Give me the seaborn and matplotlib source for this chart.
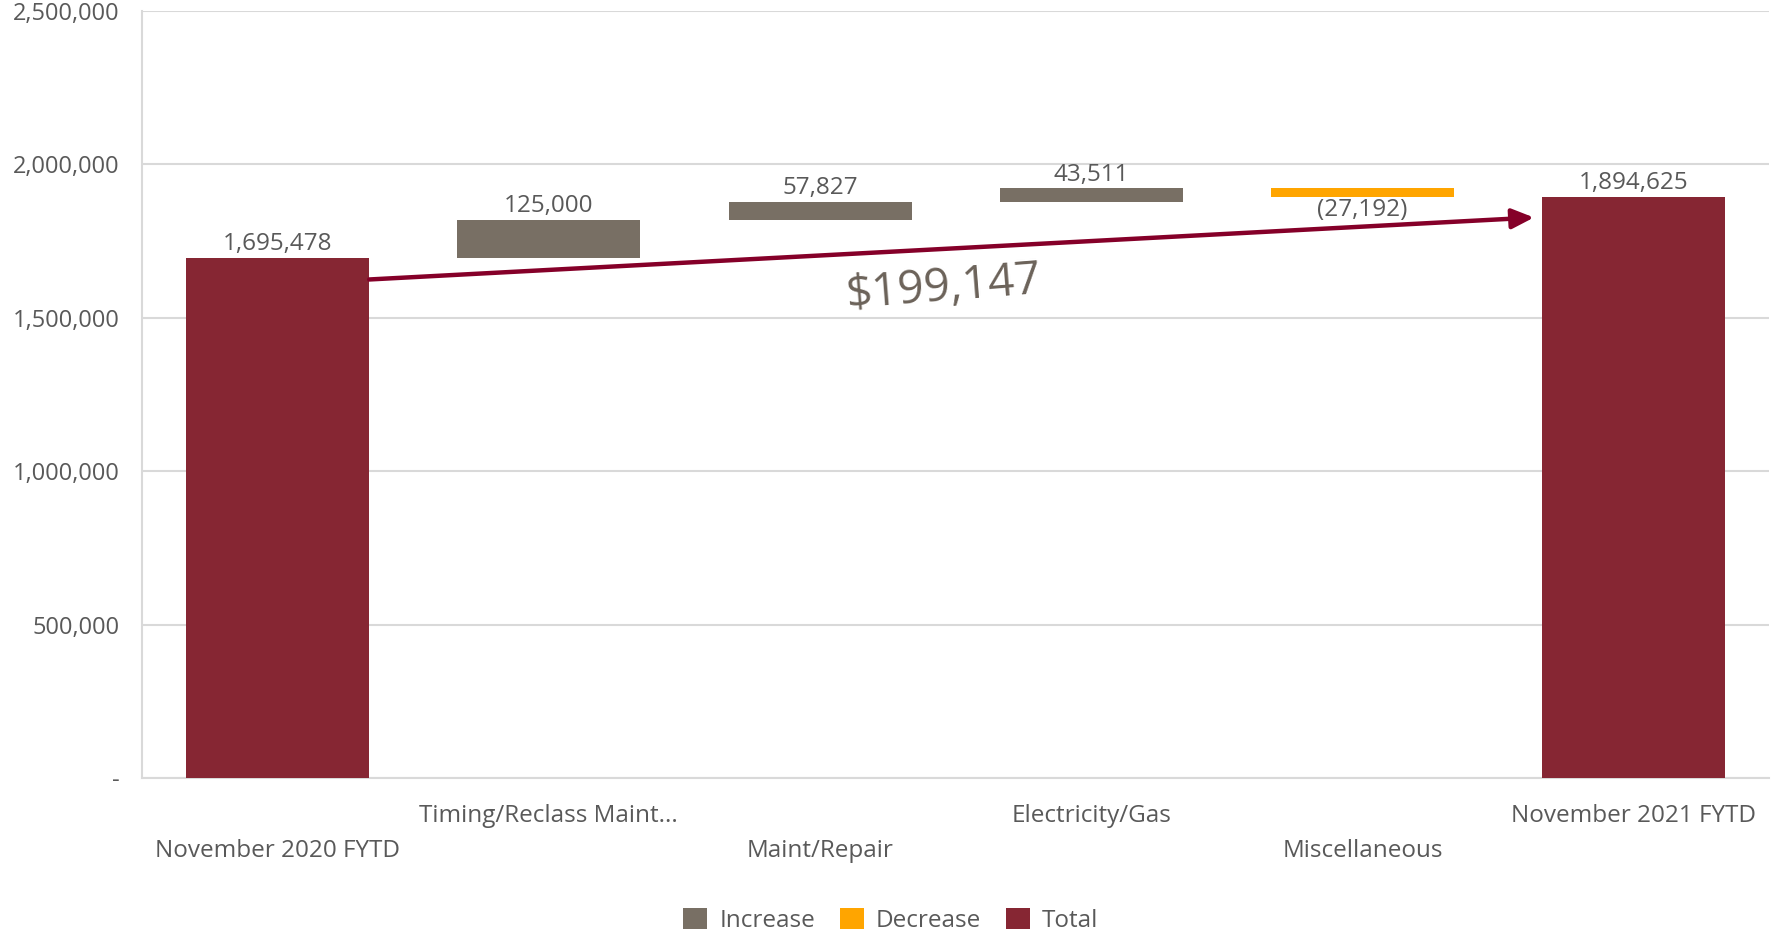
import numpy as np
import pandas as pd
import matplotlib.pyplot as plt
import seaborn as sns
from matplotlib.patches import Patch

# Waterfall data
categories = ['November 2020 FYTD', 'Timing/Reclass Maint...', 'Maint/Repair',
              'Electricity/Gas', 'Miscellaneous', 'November 2021 FYTD']
changes = [1695478, 125000, 57827, 43511, -27192, 1894625]
kinds = ['Total', 'Increase', 'Increase', 'Increase', 'Decrease', 'Total']
labels = ['1,695,478', '125,000', '57,827', '43,511', '(27,192)', '1,894,625']
yticks = [0, 500000, 1000000, 1500000, 2000000, 2500000]
total_change = '$199,147'
arrow_start_y = 1625000
arrow_end_y = 1827000

colors = {'Increase': '#786F64', 'Decrease': '#FFA500', 'Total': '#862633'}
text_color = '#595959'

# bottoms / heights of floating bars
bottoms, heights = [], []
running = 0
for c, k in zip(changes, kinds):
    if k == 'Total':
        bottoms.append(0)
        heights.append(c)
        running = c
    else:
        start = running
        running = running + c
        bottoms.append(min(start, running))
        heights.append(abs(c))

df = pd.DataFrame({'category': categories, 'height': heights,
                   'bottom': bottoms, 'kind': kinds, 'label': labels})

sns.set_theme(style='white')
plt.rcParams['font.family'] = ['Open Sans', 'DejaVu Sans']

fig = plt.figure(figsize=(17.71, 9.36), dpi=100)
ax = fig.add_axes([0.0802, 0.1688, 0.9188, 0.8194])

sns.barplot(data=df, x='category', y='height', color='#786F64',
            width=0.675, ax=ax, zorder=3)

# float the bars and colour them by kind
for patch, b, k in zip(ax.patches, df['bottom'], df['kind']):
    patch.set_y(b)
    patch.set_facecolor(colors[k])
    patch.set_edgecolor('none')

# data labels
for i, row in df.iterrows():
    if row['kind'] == 'Decrease':
        ax.annotate(row['label'], (i, row['bottom']), xytext=(0, -1),
                    textcoords='offset points', ha='center', va='top',
                    fontsize=17.5, color=text_color, zorder=4)
    else:
        ax.annotate(row['label'], (i, row['bottom'] + row['height']), xytext=(0, 1),
                    textcoords='offset points', ha='center', va='bottom',
                    fontsize=17.5, color=text_color, zorder=4)

# arrow from first total to last total
half = 0.675 / 2
ax.annotate('', xy=(len(categories) - 1 - half - 0.03, arrow_end_y),
            xytext=(half, arrow_start_y),
            arrowprops=dict(arrowstyle='-|>,head_length=1.1,head_width=0.5',
                            color='#850029', lw=3.2, shrinkA=0, shrinkB=0),
            zorder=5)
ax.text(2.456, 1596000, total_change, ha='center', va='center', rotation=4.5,
        fontsize=33, color='#6B6259', zorder=5)

# axes styling
ax.set_ylim(0, 2500000)
ax.set_xlim(-0.5, len(categories) - 0.5)
ax.set_yticks(yticks)
ax.set_yticklabels(['-' if v == 0 else f'{v:,.0f}' for v in yticks])
ax.yaxis.grid(True, color='#D9D9D9', lw=1.5, zorder=0)
ax.set_axisbelow(True)
ax.set_xlabel('')
ax.set_ylabel('')
for side in ['top', 'right']:
    ax.spines[side].set_visible(False)
for side in ['left', 'bottom']:
    ax.spines[side].set_color('#D9D9D9')
    ax.spines[side].set_linewidth(1.5)
ax.tick_params(axis='y', length=0, pad=16, labelsize=17, labelcolor=text_color)
ax.tick_params(axis='x', length=0, labelsize=17.5, labelcolor=text_color)

# staggered category labels
for i, tick in enumerate(ax.xaxis.get_major_ticks()):
    tick.set_pad(44 if i % 2 == 0 else 19)

handles = [Patch(facecolor=colors[k], edgecolor='none') for k in ['Increase', 'Decrease', 'Total']]
leg = fig.legend(handles, ['Increase', 'Decrease', 'Total'], loc='lower center',
                 bbox_to_anchor=(0.503, -0.02), ncol=3, frameon=False, fontsize=17.5,
                 handlelength=1.0, handleheight=1.0, handletextpad=0.5, columnspacing=1.0)
for t in leg.get_texts():
    t.set_color(text_color)

plt.savefig('out.png', dpi=100)
